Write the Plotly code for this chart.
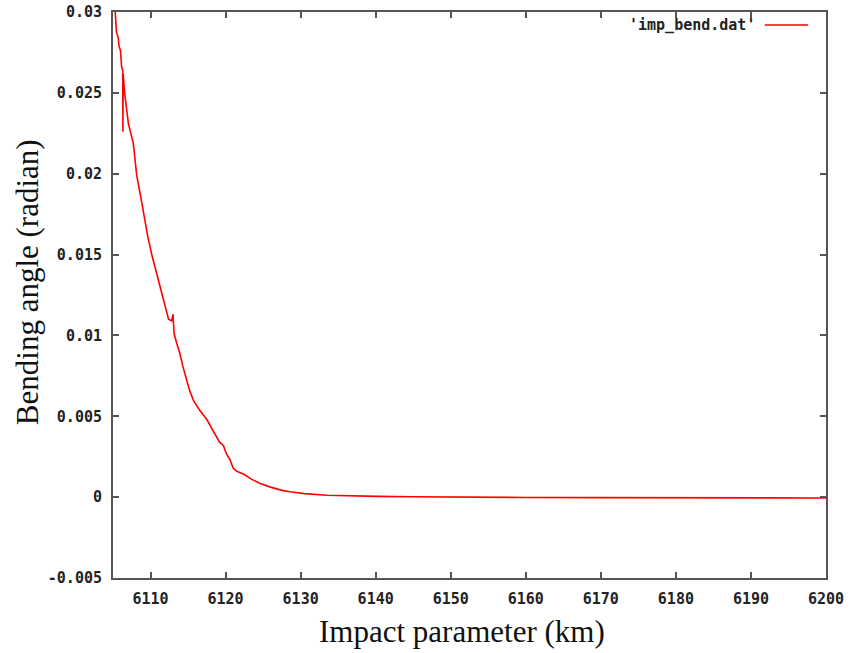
import plotly.graph_objects as go

# Impact parameter (km) and bending angle (radian)
impact = [6105.30, 6105.35, 6105.45, 6105.70, 6105.80, 6106.00, 6106.15, 6106.30, 6106.32,
          6106.35, 6106.55, 6106.80, 6107.05, 6107.70, 6108.16, 6108.80, 6109.05, 6109.60,
          6110.16, 6110.70, 6111.27, 6111.80, 6112.40, 6112.80, 6113.00, 6113.05, 6113.15,
          6113.50, 6113.90, 6114.30, 6114.80, 6115.20, 6115.70, 6116.50, 6117.50, 6118.20,
          6118.80, 6119.20, 6119.70, 6120.10, 6120.60, 6121.00, 6121.50, 6122.50, 6123.50,
          6124.60, 6126.00, 6127.50, 6128.60, 6130.50, 6133.50, 6136.50, 6140.20, 6145.00,
          6150.00, 6160.00, 6170.00, 6180.00, 6190.00, 6200.00]
bending = [0.0300, 0.0292, 0.0288, 0.0284, 0.0279, 0.0276, 0.0266, 0.0264, 0.0226,
           0.0262, 0.0250, 0.0240, 0.0231, 0.0219, 0.0199, 0.0183, 0.0176, 0.0162,
           0.0150, 0.0140, 0.0130, 0.0120, 0.0110, 0.0109, 0.0113, 0.0108, 0.0101,
           0.0095, 0.0089, 0.0081, 0.0072, 0.0066, 0.0060, 0.0054, 0.0048, 0.0042,
           0.0037, 0.0034, 0.0032, 0.0027, 0.0023, 0.0018, 0.0016, 0.0014, 0.0011,
           0.00085, 0.00062, 0.00042, 0.00033, 0.00022, 0.00012, 0.00008, 0.00005, 0.00002,
           0.0, -0.00002, -0.00003, -0.00004, -0.00005, -0.00005]

x_ticks = [6110, 6120, 6130, 6140, 6150, 6160, 6170, 6180, 6190, 6200]
y_ticks = [-0.005, 0, 0.005, 0.01, 0.015, 0.02, 0.025, 0.03]
y_tick_labels = ["-0.005", "0", "0.005", "0.01", "0.015", "0.02", "0.025", "0.03"]
series_name = "'imp_bend.dat'"

fig = go.Figure()
fig.add_trace(go.Scatter(x=impact, y=bending, mode="lines", name=series_name,
                         line=dict(color="#ff0000", width=1.6), showlegend=False))

axis_common = dict(showline=True, mirror="ticks", linecolor="#555555", linewidth=2,
                   ticks="inside", ticklen=6, tickwidth=1.5, tickcolor="#555555",
                   showgrid=False, zeroline=False, automargin=False,
                   tickfont=dict(family="DejaVu Sans Mono", size=15, color="#222222", weight="bold"))

fig.update_layout(
    width=852, height=653,
    paper_bgcolor="white", plot_bgcolor="white",
    margin=dict(l=113, r=26, t=12, b=75),
    xaxis=dict(range=[6105, 6200], tickvals=x_ticks, ticklabelstandoff=6, **axis_common),
    yaxis=dict(range=[-0.005, 0.03], tickvals=y_ticks, ticktext=y_tick_labels,
               ticklabelstandoff=6, **axis_common),
    annotations=[
        dict(text="Impact parameter (km)", xref="paper", yref="paper", x=0.489, y=-0.095,
             xanchor="center", yanchor="middle", showarrow=False,
             font=dict(family="Liberation Serif", size=31, color="#111111")),
        dict(text="Bending angle (radian)", xref="paper", yref="paper", x=-0.119, y=0.523,
             xanchor="center", yanchor="middle", showarrow=False, textangle=-90,
             font=dict(family="Liberation Serif", size=31, color="#111111")),
        dict(text=series_name, xref="paper", yref="paper", x=0.903, y=0.977,
             xanchor="right", yanchor="middle", showarrow=False,
             font=dict(family="DejaVu Sans Mono", size=15, color="#222222", weight="bold")),
    ],
    shapes=[
        dict(type="line", xref="paper", yref="paper", x0=0.914, x1=0.975, y0=0.977, y1=0.977,
             line=dict(color="#ff0000", width=1.6)),
    ],
)

fig.write_html("out.html", config={"displayModeBar": False},
               post_script="document.body.style.margin='0';document.body.style.overflow='hidden';")
